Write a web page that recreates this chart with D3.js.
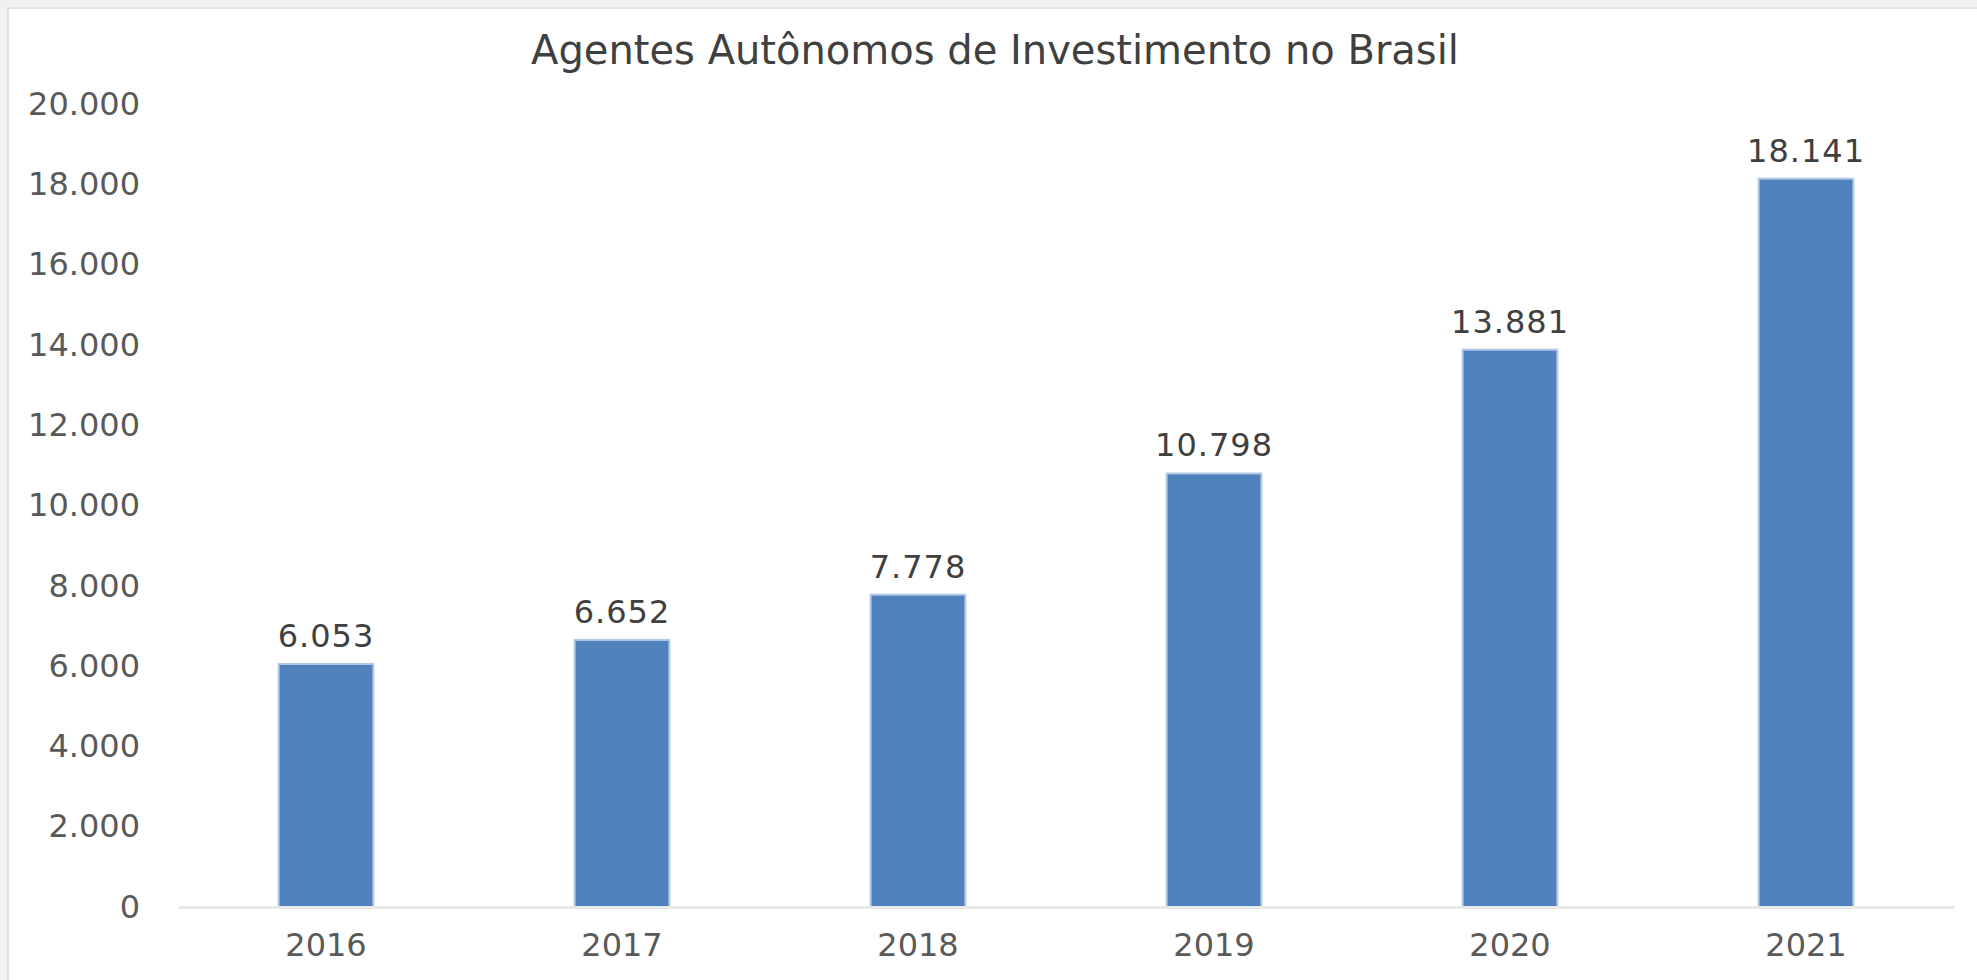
<!DOCTYPE html>
<html>
<head>
<meta charset="utf-8">
<script src="https://cdnjs.cloudflare.com/ajax/libs/d3/7.8.5/d3.min.js"></script>
<style>
    body { margin: 0; background: #ffffff; }
    svg { display: block; }
</style>
</head>
<body>
<div id="chart"></div>
<script>
//  === Data ===
var years = ["2016", "2017", "2018", "2019", "2020", "2021"];
var agentes = [6053, 6652, 7778, 10798, 13881, 18141];
var yTicks = [0, 2000, 4000, 6000, 8000, 10000, 12000, 14000, 16000, 18000, 20000];
var chartTitle = "Agentes Autônomos de Investimento no Brasil";
// /Data

//  === Chart ===
function drawChart() {
    var width = 1977;
    var height = 980;
    var fontName = "'DejaVu Sans', sans-serif";

    var svg = d3.select("#chart").append("svg")
        .attr("width", width)
        .attr("height", height);

    // frame, light gray on top and left like the screenshot
    svg.append("rect").attr("x", 0).attr("y", 0).attr("width", width).attr("height", 8).attr("fill", "#f0f0f0");
    svg.append("rect").attr("x", 0).attr("y", 0).attr("width", 8).attr("height", height).attr("fill", "#f0f0f0");
    svg.append("line").attr("x1", 8).attr("x2", width).attr("y1", 8).attr("y2", 8)
        .attr("stroke", "#e2e2e2").attr("stroke-width", 2);
    svg.append("line").attr("x1", 8).attr("x2", 8).attr("y1", 8).attr("y2", height)
        .attr("stroke", "#e2e2e2").attr("stroke-width", 2);

    var x = d3.scaleBand()
        .domain(years)
        .range([178, 1954])
        .paddingInner(0.68)
        .paddingOuter(0.34);

    var y = d3.scaleLinear()
        .domain([0, 20000])
        .range([907, 104]);

    var fmt = d3.formatLocale({ decimal: ",", thousands: ".", grouping: [3], currency: ["R$", ""] }).format(",.0f");

    // title
    svg.append("text")
        .attr("x", 995)
        .attr("y", 64)
        .attr("text-anchor", "middle")
        .style("font-family", fontName)
        .style("font-size", "40px")
        .attr("fill", "#404040")
        .text(chartTitle);

    // y axis labels only (no gridlines)
    var yAxis = d3.axisLeft(y).tickValues(yTicks).tickFormat(fmt).tickSize(0).tickPadding(0);
    var gy = svg.append("g")
        .attr("transform", "translate(140,0)")
        .call(yAxis);
    gy.select(".domain").remove();
    gy.selectAll("text")
        .style("font-family", fontName)
        .style("font-size", "32px")
        .attr("fill", "#595959");

    // bars
    svg.selectAll(".bar")
        .data(agentes)
        .enter()
        .append("rect")
        .attr("class", "bar")
        .attr("x", function (d, i) { return x(years[i]); })
        .attr("y", function (d) { return y(d); })
        .attr("width", x.bandwidth())
        .attr("height", function (d) { return y(0) - y(d); })
        .attr("fill", "#4f81bd")
        .attr("stroke", "#b4c9e6")
        .attr("stroke-width", 2);

    // x axis line + labels
    var xAxis = d3.axisBottom(x).tickSize(0).tickPadding(26);
    var gx = svg.append("g")
        .attr("transform", "translate(0," + y(0) + ")")
        .call(xAxis);
    gx.select(".domain")
        .attr("stroke", "#e8e8e8")
        .attr("stroke-width", 3);
    gx.selectAll("text")
        .style("font-family", fontName)
        .style("font-size", "32px")
        .attr("fill", "#595959");

    // value labels above bars
    svg.selectAll(".barlabel")
        .data(agentes)
        .enter()
        .append("text")
        .attr("class", "barlabel")
        .attr("x", function (d, i) { return x(years[i]) + x.bandwidth() / 2; })
        .attr("y", function (d) { return y(d) - 17; })
        .attr("text-anchor", "middle")
        .style("font-family", fontName)
        .style("font-size", "32px")
        .style("letter-spacing", "1px")
        .attr("fill", "#404040")
        .text(function (d) { return fmt(d); });
}
// /Chart

drawChart();
</script>
</body>
</html>
